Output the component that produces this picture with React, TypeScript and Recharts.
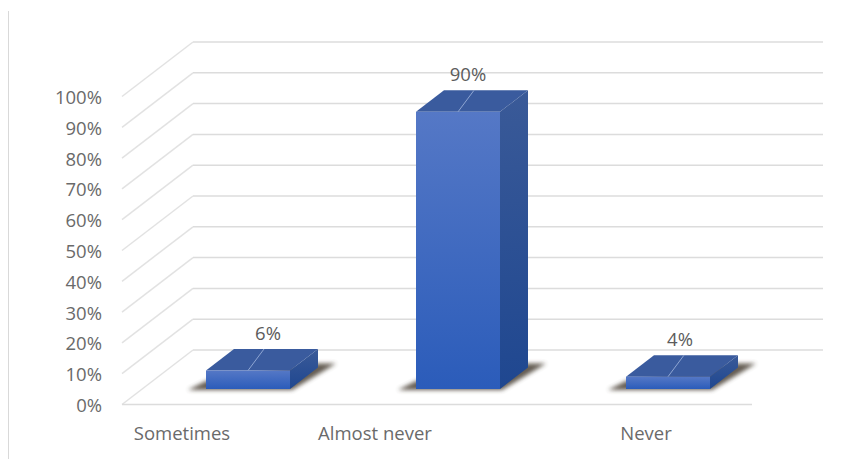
import { BarChart, Bar, XAxis, YAxis, LabelList, CartesianGrid } from "recharts";

const categories = ["Sometimes", "Almost never", "Never"];
const shares = [6, 90, 4];
const percentTicks = [0, 10, 20, 30, 40, 50, 60, 70, 80, 90, 100];

// the category labels and value labels do not sit centred under their bars
const categoryNudge = [-45, -62, -1];
const valueNudge = [20, 10, 12];

const data = categories.map((name, i) => ({ name, share: shares[i] }));

const WIDTH = 867;
const HEIGHT = 459;
const PLOT_LEFT = 122;
const PLOT_RIGHT = 752;
const PLOT_TOP = 96.5;
const PLOT_BOTTOM = 404.5;

// wall sits behind the floor by this much, bars stand a third of the way in
const WALL_DX = 71;
const WALL_DY = -54.5;
const BAR_DX = 21;
const BAR_DY = -15.5;
const DEPTH_DX = 28;
const DEPTH_DY = -21.5;

const TEXT_COLOR = "#6a6a6a";
const FONT = "'Open Sans', sans-serif";
const FONT_SIZE = 18.5;

// one grid line: up the side wall, then across the back wall
function WallLine({ y1 }: any) {
  const backY = y1 + WALL_DY;
  return (
    <g>
      <line x1={PLOT_LEFT} y1={y1} x2={PLOT_LEFT + WALL_DX} y2={backY} stroke="#e2e2e2" strokeWidth={1.5} />
      <line x1={PLOT_LEFT + WALL_DX} y1={backY} x2={PLOT_RIGHT + WALL_DX} y2={backY} stroke="#dcdcdc" strokeWidth={1.5} />
    </g>
  );
}

function PercentTick({ y, payload }: any) {
  return (
    <text x={102} y={y} textAnchor="end" dominantBaseline="central" fill={TEXT_COLOR} fontSize={FONT_SIZE} fontFamily={FONT}>
      {payload.value}%
    </text>
  );
}

function CategoryTick({ x, y, payload, index }: any) {
  return (
    <text x={x + categoryNudge[index]} y={y + 20} textAnchor="middle" dominantBaseline="central" fill={TEXT_COLOR} fontSize={FONT_SIZE} fontFamily={FONT}>
      {payload.value}
    </text>
  );
}

function Box3D({ x, y, width, height }: any) {
  const left = x + BAR_DX;
  const right = left + width;
  const top = y + BAR_DY;
  const bottom = top + height;
  const mid = left + width / 2;
  const dx = DEPTH_DX;
  const dy = DEPTH_DY;
  return (
    <g>
      <polygon
        points={`${left - 18},${bottom + 1} ${right + 2},${bottom + 1} ${right + dx + 18},${bottom + dy - 4} ${right + dx},${bottom + dy - 4} ${left},${bottom - 8}`}
        fill="#4a4134"
        opacity={0.85}
        filter="url(#floorShadow)"
      />
      <polygon points={`${left},${top} ${left + dx},${top + dy} ${right + dx},${top + dy} ${right},${top}`} fill="#3a5b9e" />
      <polygon points={`${right},${top} ${right + dx},${top + dy} ${right + dx},${bottom + dy} ${right},${bottom}`} fill="url(#sideFace)" />
      <rect x={left} y={top} width={width} height={height} fill="url(#frontFace)" />
      <line x1={mid} y1={top} x2={mid + 16} y2={top + dy} stroke="#8ea5d2" strokeWidth={1} />
    </g>
  );
}

function ValueLabel({ x, y, width, value, index }: any) {
  return (
    <text
      x={x + BAR_DX + width / 2 + valueNudge[index]}
      y={y + BAR_DY - 38}
      textAnchor="middle"
      dominantBaseline="central"
      fill="#5c5c5c"
      fontSize={FONT_SIZE}
      fontFamily={FONT}
    >
      {value}%
    </text>
  );
}

export default function App() {
  return (
    <div style={{ position: "absolute", left: 0, top: 0, width: WIDTH, height: HEIGHT, background: "#fff", overflow: "hidden" }}>
      <div style={{ position: "absolute", left: 8, top: 11, width: 1, height: HEIGHT - 11, background: "#d9d9d9" }} />
      <BarChart
        width={WIDTH}
        height={HEIGHT}
        data={data}
        barSize={84}
        margin={{ top: PLOT_TOP, right: WIDTH - PLOT_RIGHT, bottom: 0, left: 0 }}
      >
        <defs>
          <linearGradient id="frontFace" x1="0" y1="0" x2="0" y2="1">
            <stop offset="0%" stopColor="#5578c6" />
            <stop offset="100%" stopColor="#2b5cba" />
          </linearGradient>
          <linearGradient id="sideFace" x1="0" y1="0" x2="0" y2="1">
            <stop offset="0%" stopColor="#3a5a98" />
            <stop offset="100%" stopColor="#1f4790" />
          </linearGradient>
          <filter id="floorShadow" x="-20%" y="-40%" width="140%" height="180%">
            <feGaussianBlur stdDeviation="2" />
          </filter>
        </defs>
        <CartesianGrid vertical={false} horizontal={(props: any) => <WallLine key={props.index} {...props} />} />
        <YAxis
          width={PLOT_LEFT}
          domain={[0, 100]}
          ticks={percentTicks}
          interval={0}
          axisLine={false}
          tickLine={false}
          tick={(props: any) => <PercentTick {...props} />}
        />
        <XAxis
          dataKey="name"
          height={HEIGHT - PLOT_BOTTOM}
          axisLine={{ stroke: "#dcdcdc", strokeWidth: 1.5 }}
          tickLine={false}
          tick={(props: any) => <CategoryTick {...props} />}
        />
        <Bar dataKey="share" shape={(props: any) => <Box3D {...props} />} isAnimationActive={false}>
          <LabelList dataKey="share" content={(props: any) => <ValueLabel {...props} />} />
        </Bar>
      </BarChart>
    </div>
  );
}
